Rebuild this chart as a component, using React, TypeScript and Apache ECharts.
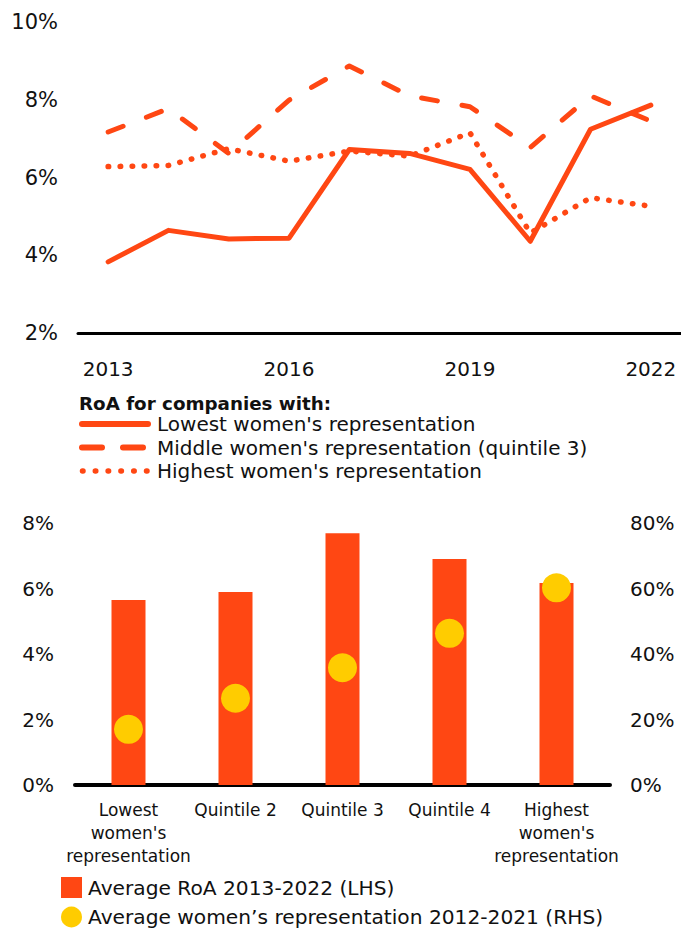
import React, { useEffect, useRef } from "react";
import * as echarts from "echarts";

const years = ["2013", "2014", "2015", "2016", "2017", "2018", "2019", "2020", "2021", "2022"];
const lowestRoA = [3.83, 4.64, 4.42, 4.44, 6.72, 6.62, 6.21, 4.36, 7.24, 7.86];
const middleRoA = [7.17, 7.77, 6.62, 7.99, 8.87, 8.1, 7.82, 6.77, 8.1, 7.45];
const highestRoA = [6.28, 6.31, 6.74, 6.42, 6.68, 6.55, 7.15, 4.57, 5.48, 5.26];

const quintiles = [
  "Lowest\nwomen's\nrepresentation",
  "Quintile 2",
  "Quintile 3",
  "Quintile 4",
  "Highest\nwomen's\nrepresentation",
];
const avgRoA = [5.65, 5.89, 7.69, 6.9, 6.17];
const avgWomenRep = [17.0, 26.5, 35.8, 46.3, 60.2];

const lineLegend = [
  "Lowest women's representation",
  "Middle women's representation (quintile 3)",
  "Highest women's representation",
];
const barLegend = ["Average RoA 2013-2022 (LHS)", "Average women\u2019s representation 2012-2021 (RHS)"];

const ORANGE = "#ff4713";
const YELLOW = "#ffcc00";
const TEXT = "#111111";
const FONT = "DejaVu Sans";

export default function App() {
  const ref = useRef<HTMLDivElement>(null);
  useEffect(() => {
    if (!ref.current) return;
    const chart = echarts.init(ref.current, null, { renderer: "svg" });
    const lineBase = {
      type: "line",
      xAxisIndex: 0,
      yAxisIndex: 0,
      symbol: "none",
      silent: true,
    };
    chart.setOption({
      animation: false,
      textStyle: { fontFamily: FONT, color: TEXT },
      grid: [
        { left: 78, right: -4, top: 22, height: 311 },
        { left: 75, width: 535, top: 523, height: 262 },
      ],
      xAxis: [
        {
          type: "category",
          gridIndex: 0,
          data: years,
          boundaryGap: true,
          axisLine: { show: true, lineStyle: { color: "#000", width: 3 } },
          axisTick: { show: false },
          axisLabel: { interval: 2, fontSize: 20, margin: 26, color: TEXT, fontFamily: FONT },
        },
        {
          type: "category",
          gridIndex: 1,
          data: quintiles,
          axisLine: { show: true, lineStyle: { color: "#000", width: 4 } },
          axisTick: { show: false },
          axisLabel: { interval: 0, fontSize: 17, lineHeight: 23, margin: 13, color: TEXT, fontFamily: FONT },
        },
      ],
      yAxis: [
        {
          type: "value",
          gridIndex: 0,
          min: 2,
          max: 10,
          interval: 2,
          axisLine: { show: false },
          axisTick: { show: false },
          splitLine: { show: false },
          axisLabel: { formatter: "{value}%", fontSize: 21, margin: 20, color: TEXT, fontFamily: FONT },
        },
        {
          type: "value",
          gridIndex: 1,
          min: 0,
          max: 8,
          interval: 2,
          axisLine: { show: false },
          axisTick: { show: false },
          splitLine: { show: false },
          axisLabel: { formatter: "{value}%", fontSize: 20, margin: 21, color: TEXT, fontFamily: FONT },
        },
        {
          type: "value",
          gridIndex: 1,
          position: "right",
          min: 0,
          max: 80,
          interval: 20,
          axisLine: { show: false },
          axisTick: { show: false },
          splitLine: { show: false },
          axisLabel: { formatter: "{value}%", fontSize: 20, margin: 20, color: TEXT, fontFamily: FONT },
        },
      ],
      series: [
        {
          ...lineBase,
          name: lineLegend[2],
          data: highestRoA,
          lineStyle: { color: ORANGE, width: 5.5, type: [0.5, 11.5], cap: "round", join: "round" },
        },
        {
          ...lineBase,
          name: lineLegend[1],
          data: middleRoA,
          lineStyle: { color: ORANGE, width: 5, type: [16, 25], cap: "round", join: "round" },
        },
        {
          ...lineBase,
          name: lineLegend[0],
          data: lowestRoA,
          lineStyle: { color: ORANGE, width: 5, cap: "round", join: "round" },
        },
        {
          type: "bar",
          name: barLegend[0],
          xAxisIndex: 1,
          yAxisIndex: 1,
          data: avgRoA,
          barWidth: 34,
          itemStyle: { color: ORANGE },
          silent: true,
        },
        {
          type: "scatter",
          name: barLegend[1],
          xAxisIndex: 1,
          yAxisIndex: 2,
          data: avgWomenRep,
          symbol: "circle",
          symbolSize: 29,
          itemStyle: { color: YELLOW, opacity: 1 },
          z: 5,
          silent: true,
        },
      ],
      graphic: [
        {
          type: "text",
          x: 79,
          y: 403,
          style: { text: "RoA for companies with:", font: `bold 18.3px "${FONT}"`, fill: TEXT, verticalAlign: "middle" },
        },
        {
          type: "line",
          shape: { x1: 82, y1: 424, x2: 148, y2: 424 },
          style: { stroke: ORANGE, lineWidth: 6, lineCap: "round" },
        },
        {
          type: "text",
          x: 157,
          y: 424,
          style: { text: lineLegend[0], font: `20px "${FONT}"`, fill: TEXT, verticalAlign: "middle" },
        },
        {
          type: "line",
          shape: { x1: 82, y1: 447.5, x2: 143, y2: 447.5 },
          style: { stroke: ORANGE, lineWidth: 6, lineCap: "round", lineDash: [20, 21] },
        },
        {
          type: "text",
          x: 157,
          y: 447.5,
          style: { text: lineLegend[1], font: `20px "${FONT}"`, fill: TEXT, verticalAlign: "middle" },
        },
        {
          type: "line",
          shape: { x1: 82.5, y1: 471, x2: 147, y2: 471 },
          style: { stroke: ORANGE, lineWidth: 5.5, lineCap: "round", lineDash: [0.5, 12.3] },
        },
        {
          type: "text",
          x: 157,
          y: 471,
          style: { text: lineLegend[2], font: `20px "${FONT}"`, fill: TEXT, verticalAlign: "middle" },
        },
        {
          type: "rect",
          shape: { x: 61, y: 877, width: 21, height: 21 },
          style: { fill: ORANGE },
        },
        {
          type: "text",
          x: 88,
          y: 888,
          style: { text: barLegend[0], font: `20.2px "${FONT}"`, fill: TEXT, verticalAlign: "middle" },
        },
        {
          type: "circle",
          shape: { cx: 71.5, cy: 917, r: 10.5 },
          style: { fill: YELLOW },
        },
        {
          type: "text",
          x: 88,
          y: 917,
          style: { text: barLegend[1], font: `20.2px "${FONT}"`, fill: TEXT, verticalAlign: "middle" },
        },
      ],
    });
    return () => chart.dispose();
  }, []);
  return (
    <div
      ref={ref}
      style={{ position: "absolute", left: 0, top: 0, width: 681, height: 928, background: "#fff" }}
    />
  );
}
